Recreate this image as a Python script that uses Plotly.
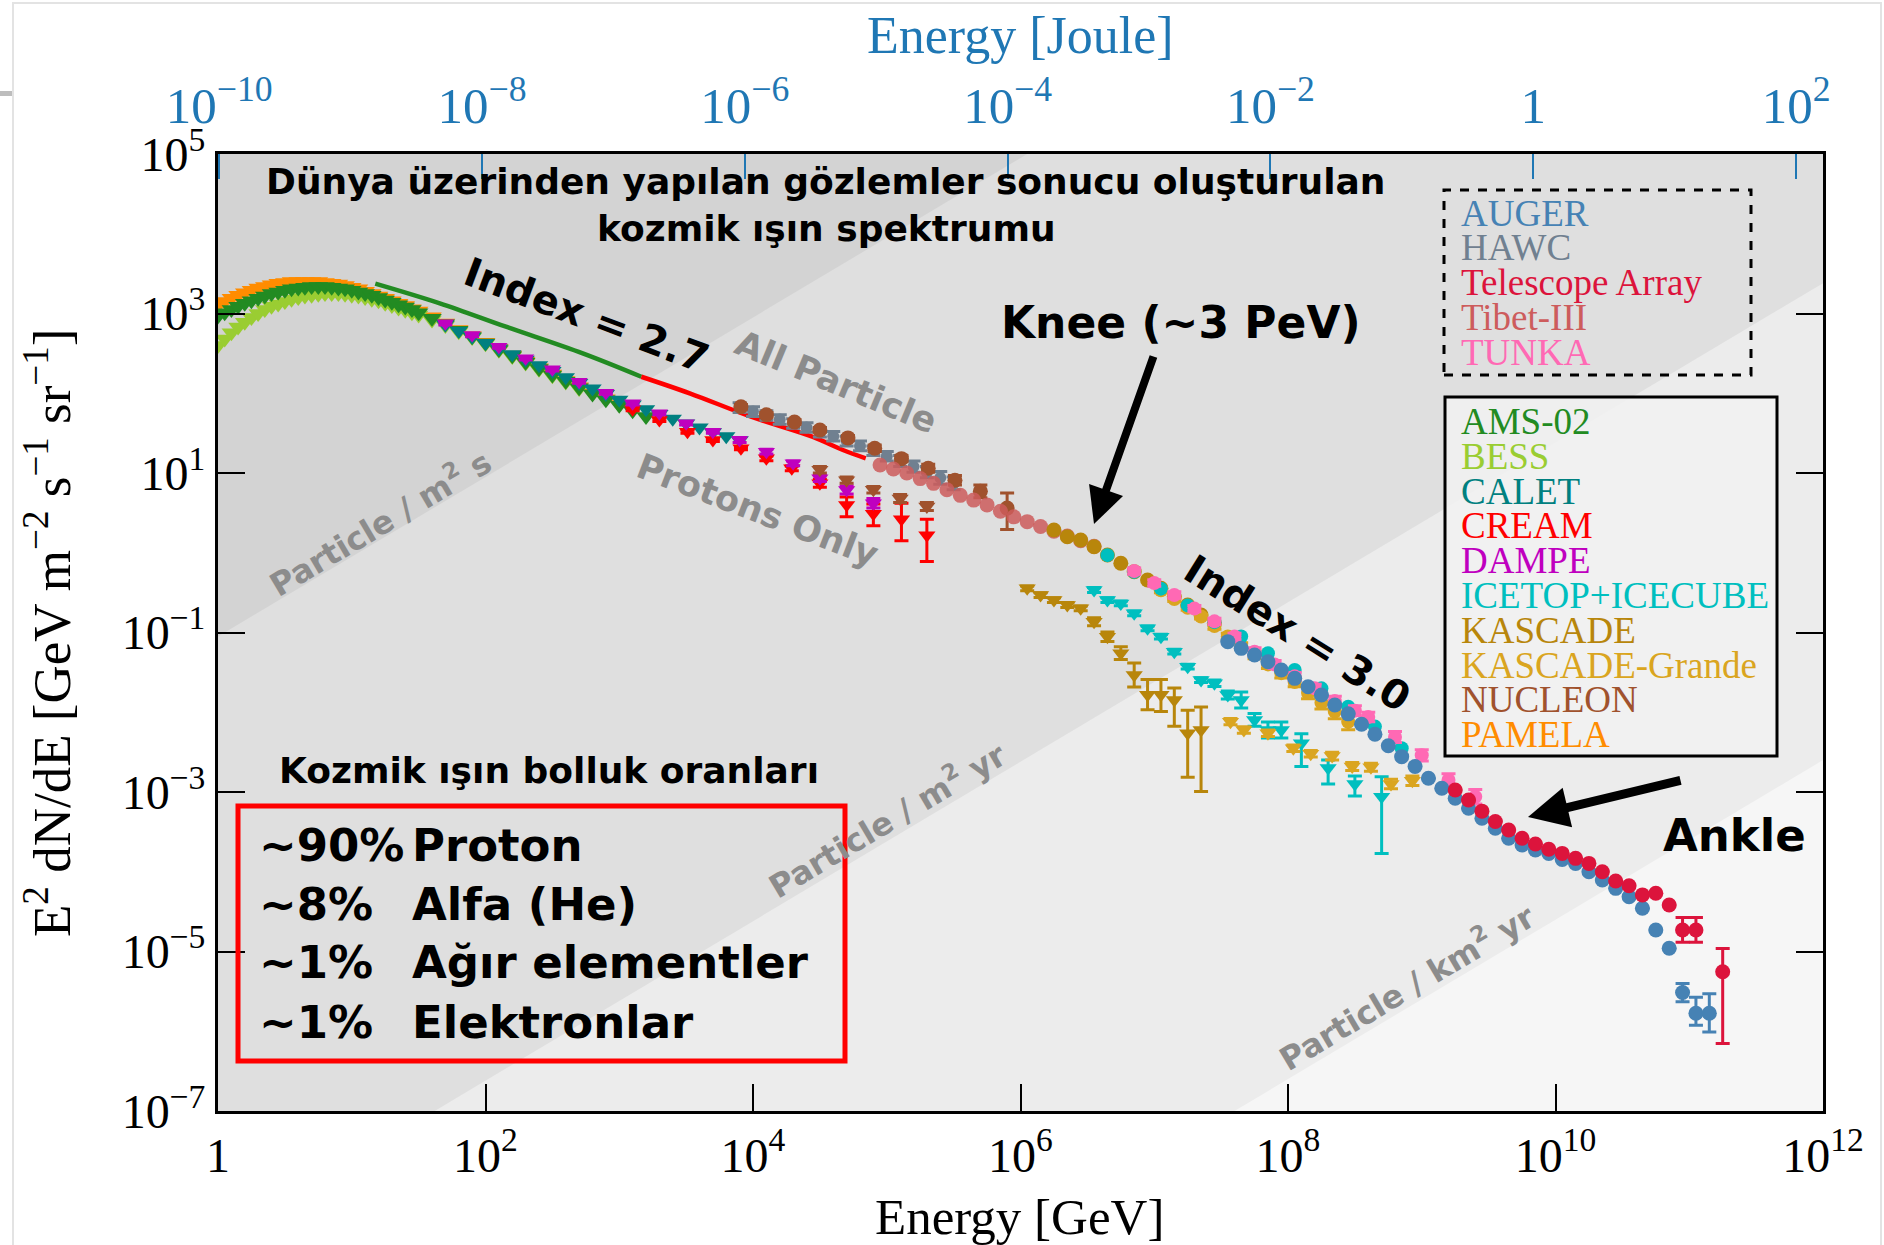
import numpy as np
import plotly.graph_objects as go

# ---------------- data (log10 E [GeV], log10 E^2 dN/dE) ----------------
pamela_lgE = [0.00,0.05,0.10,0.15,0.20,0.25,0.30,0.35,0.40,0.45,0.50,0.55,0.60,0.65,0.70,0.75,0.80,0.85,0.90,0.95,
              1.00,1.05,1.10,1.15,1.20,1.25,1.30,1.35,1.40,1.45,1.50,1.60,1.70,1.80,1.90,2.00,2.10,2.20,2.30,2.40,
              2.50,2.60,2.70,2.80,2.90,3.00]
pamela_lgF = [3.10,3.15,3.19,3.23,3.26,3.29,3.32,3.34,3.36,3.38,3.39,3.40,3.40,3.40,3.40,3.40,3.39,3.38,3.37,3.35,
              3.33,3.31,3.28,3.25,3.22,3.19,3.16,3.13,3.10,3.06,3.03,2.96,2.88,2.80,2.72,2.64,2.56,2.48,2.40,2.32,
              2.24,2.16,2.08,2.00,1.93,1.86]

bess_lgE = [0.00,0.05,0.10,0.15,0.20,0.25,0.30,0.35,0.40,0.45,0.50,0.55,0.60,0.65,0.70,0.75,0.80,0.85,0.90,0.95,
            1.00,1.05,1.10,1.15,1.20,1.25,1.30,1.35,1.40,1.45,1.50,1.60,1.70,1.80,1.90,2.00,2.10,2.20,2.30,2.40,
            2.50,2.60,2.70]
bess_lgF = [2.60,2.68,2.76,2.83,2.89,2.95,3.00,3.05,3.09,3.12,3.15,3.18,3.20,3.22,3.23,3.24,3.25,3.25,3.25,3.24,
            3.23,3.22,3.20,3.18,3.16,3.13,3.10,3.07,3.04,3.01,2.98,2.92,2.85,2.77,2.70,2.62,2.54,2.46,2.38,2.30,
            2.22,2.14,2.06]

ams_lgE = [0.00,0.05,0.10,0.15,0.20,0.25,0.30,0.35,0.40,0.45,0.50,0.55,0.60,0.65,0.70,0.75,0.80,0.85,0.90,0.95,
           1.00,1.05,1.10,1.15,1.20,1.25,1.30,1.35,1.40,1.45,1.50,1.60,1.70,1.80,1.90,2.00,2.10,2.20,2.30,2.40,
           2.50,2.60,2.70,2.80,2.90,3.00,3.10,3.20]
ams_lgF = [2.97,3.01,3.05,3.09,3.13,3.16,3.19,3.22,3.25,3.27,3.29,3.31,3.32,3.33,3.34,3.34,3.34,3.33,3.32,3.31,
           3.29,3.27,3.25,3.23,3.20,3.17,3.14,3.11,3.08,3.05,3.01,2.94,2.87,2.79,2.71,2.63,2.55,2.47,2.39,2.31,
           2.23,2.15,2.07,1.99,1.92,1.85,1.78,1.71]

ams_line_lgE = [1.176, 1.658, 2.153, 2.727, 3.165]
ams_line_lgF = [3.375, 3.128, 2.834, 2.500, 2.207]
cream_line_lgE = [3.165, 3.527, 3.985, 4.443, 4.672, 4.843]
cream_line_lgF = [2.207, 1.999, 1.706, 1.455, 1.288, 1.184]

calet_lgE = [1.7,1.8,1.9,2.0,2.1,2.2,2.3,2.4,2.5,2.6,2.7,2.8,2.9,3.0,3.1,3.2,3.3,3.4,3.5,3.6,3.7,3.8,3.9]
calet_lgF = [2.86,2.78,2.71,2.63,2.56,2.49,2.42,2.35,2.28,2.20,2.13,2.06,1.99,1.92,1.86,1.80,1.74,1.68,1.62,
             1.57,1.51,1.46,1.41]

dampe_lgE = [1.70,1.90,2.10,2.30,2.50,2.70,2.90,3.10,3.30,3.50,3.70,3.90,4.10,4.30,4.50,4.70,4.90]
dampe_lgF = [2.877,2.730,2.584,2.438,2.300,2.145,2.007,1.874,1.749,1.623,1.518,1.414,1.267,1.122,0.934,0.787,0.620]
dampe_err = [0.02,0.02,0.02,0.02,0.02,0.02,0.02,0.02,0.02,0.02,0.02,0.03,0.03,0.03,0.04,0.05,0.06]

cream_lgE = [3.10,3.30,3.51,3.70,3.91,4.10,4.29,4.50,4.70,4.90,5.11,5.30]
cream_lgF = [1.800,1.665,1.518,1.414,1.310,1.184,1.059,0.871,0.600,0.490,0.420,0.220]
cream_up = [0.02,0.02,0.02,0.02,0.02,0.03,0.03,0.05,0.10,0.12,0.20,0.20]
cream_dn = [0.02,0.02,0.02,0.02,0.02,0.03,0.03,0.05,0.15,0.15,0.27,0.33]

nucleon_p_lgE = [4.50,4.70,4.90,5.10,5.30]
nucleon_p_lgF = [1.04,0.91,0.79,0.68,0.58]
nucleon_p_err = [0.04,0.04,0.04,0.05,0.05]

hawc_lgE = [3.9,4.0,4.1,4.2,4.3,4.4,4.5,4.6,4.7,4.8,4.9,5.0,5.1,5.2,5.3,5.4,5.5]
hawc_lgF = [1.82,1.77,1.72,1.67,1.62,1.57,1.51,1.46,1.40,1.34,1.28,1.21,1.15,1.08,1.01,0.94,0.87]
hawc_err = [0.06,0.06,0.06,0.06,0.06,0.06,0.06,0.06,0.06,0.06,0.06,0.06,0.07,0.07,0.07,0.08,0.08]

nucleon_lgE = [3.91,4.10,4.31,4.50,4.71,4.91,5.11,5.31,5.51,5.70,5.90]
nucleon_lgF = [1.83,1.73,1.64,1.54,1.44,1.31,1.18,1.06,0.91,0.77,0.56]
nucleon_up = [0.03,0.03,0.03,0.03,0.03,0.04,0.04,0.05,0.06,0.08,0.19]
nucleon_dn = [0.03,0.03,0.03,0.03,0.03,0.04,0.04,0.05,0.06,0.08,0.27]

tibet_lgE = [4.95,5.05,5.15,5.25,5.35,5.45,5.55,5.65,5.75,5.85,5.95,6.05,6.15,6.25,6.35,6.45,6.55]
tibet_lgF = [1.10,1.05,1.00,0.93,0.87,0.79,0.72,0.66,0.60,0.52,0.45,0.39,0.33,0.27,0.21,0.15,0.08]

kascade_p_lgE = [6.05,6.15,6.25,6.35,6.45,6.55,6.65,6.75,6.85,6.95,7.05,7.15,7.25,7.35]
kascade_p_lgF = [-0.446,-0.530,-0.593,-0.655,-0.697,-0.864,-1.053,-1.260,-1.533,-1.780,-1.780,-1.846,-2.264,-2.223]
kascade_p_up = [0.03,0.03,0.03,0.03,0.03,0.05,0.06,0.08,0.15,0.19,0.19,0.15,0.29,0.29]
kascade_p_dn = [0.03,0.03,0.03,0.03,0.03,0.05,0.06,0.08,0.15,0.19,0.21,0.33,0.55,0.77]

icetop_p_lgE = [6.55,6.65,6.75,6.85,6.95,7.05,7.15,7.25,7.35,7.45,7.55,7.65,7.75,7.85,7.95,8.10,8.30,8.50,8.70]
icetop_p_lgF = [-0.467,-0.593,-0.635,-0.760,-0.948,-1.053,-1.240,-1.429,-1.596,-1.637,-1.784,-1.846,-2.097,
                -2.223,-2.223,-2.390,-2.700,-2.900,-3.060]
icetop_p_up = [0.03,0.03,0.03,0.03,0.03,0.03,0.03,0.03,0.03,0.04,0.05,0.10,0.08,0.10,0.10,0.12,0.10,0.10,0.25]
icetop_p_dn = [0.03,0.03,0.03,0.03,0.03,0.03,0.03,0.03,0.03,0.04,0.05,0.10,0.08,0.10,0.10,0.29,0.20,0.15,0.71]

kg_p_lgE = [7.57,7.67,7.85,8.04,8.17,8.33,8.48,8.62,8.77,8.93]
kg_p_lgF = [-2.118,-2.223,-2.264,-2.452,-2.520,-2.550,-2.680,-2.690,-2.900,-2.860]
kg_p_err = [0.04,0.04,0.04,0.04,0.04,0.05,0.05,0.05,0.06,0.06]

kascade_lgE = [6.25,6.35,6.45,6.55,6.65,6.75,6.85,6.95,7.05,7.15,7.25,7.35,7.45]
kascade_lgF = [0.285,0.200,0.160,0.076,-0.028,-0.132,-0.237,-0.342,-0.446,-0.551,-0.655,-0.780,-0.885]

kg_lgE = [7.05,7.15,7.25,7.35,7.45,7.55,7.65,7.75,7.85,7.95,8.05,8.15,8.25,8.35,8.45]
kg_lgF = [-0.47,-0.58,-0.69,-0.80,-0.92,-1.05,-1.17,-1.28,-1.40,-1.51,-1.62,-1.76,-1.88,-1.99,-2.12]
kg_err = [0.03,0.03,0.03,0.03,0.04,0.04,0.04,0.05,0.05,0.06,0.06,0.07,0.08,0.09,0.10]

icetop_lgE = [6.65,6.85,7.05,7.25,7.45,7.65,7.85,8.05,8.25,8.45,8.65,8.85]
icetop_lgF = [-0.03,-0.24,-0.45,-0.66,-0.87,-1.05,-1.26,-1.47,-1.70,-1.93,-2.18,-2.45]

tunka_lgE = [6.85,7.00,7.15,7.30,7.45,7.60,7.75,7.90,8.05,8.20,8.35,8.50,8.60,8.80,9.00,9.20,9.40]
tunka_lgF = [-0.23,-0.38,-0.53,-0.70,-0.86,-1.05,-1.24,-1.40,-1.55,-1.70,-1.86,-1.98,-2.06,-2.31,-2.54,-2.85,-3.06]
tunka_err = [0.04,0.04,0.04,0.04,0.04,0.04,0.05,0.05,0.05,0.05,0.06,0.06,0.06,0.07,0.07,0.08,0.09]

auger_lgE = [7.55,7.65,7.75,7.85,7.95,8.05,8.15,8.25,8.35,8.45,8.55,8.65,8.75,8.85,8.95,9.05,9.15,9.25,9.35,
             9.45,9.55,9.65,9.75,9.85,9.95,10.05,10.15,10.25,10.35,10.45,10.55,10.65,10.75,10.85,10.95,11.05,11.15]
auger_lgF = [-1.115,-1.199,-1.283,-1.366,-1.470,-1.575,-1.680,-1.784,-1.909,-2.020,-2.150,-2.275,-2.420,-2.557,
             -2.680,-2.828,-2.953,-3.079,-3.204,-3.330,-3.455,-3.580,-3.665,-3.727,-3.770,-3.845,-3.895,-4.000,
             -4.103,-4.208,-4.313,-4.458,-4.730,-4.960,-5.515,-5.775,-5.775]
auger_up = [0]*34 + [0.115, 0.20, 0.245]
auger_dn = [0]*34 + [0.115, 0.15, 0.235]

ta_lgE = [9.25,9.35,9.45,9.55,9.65,9.75,9.85,9.95,10.05,10.15,10.25,10.35,10.45,10.55,10.65,10.75,10.85,10.95,
          11.05,11.25]
ta_lgF = [-2.975,-3.100,-3.240,-3.370,-3.477,-3.580,-3.652,-3.718,-3.770,-3.832,-3.895,-4.000,-4.116,-4.175,
          -4.290,-4.270,-4.417,-4.730,-4.730,-5.253]
ta_up = [0]*17 + [0.155, 0.155, 0.29]
ta_dn = [0]*17 + [0.155, 0.155, 0.90]

x_tickvals = [1, 1e2, 1e4, 1e6, 1e8, 1e10, 1e12]
x_ticktext = ["1", "10<sup>2</sup>", "10<sup>4</sup>", "10<sup>6</sup>", "10<sup>8</sup>", "10<sup>10</sup>",
              "10<sup>12</sup>"]
y_tickvals = [1e-7, 1e-5, 1e-3, 1e-1, 1e1, 1e3, 1e5]
y_ticktext = ["10<sup>\u22127</sup>", "10<sup>\u22125</sup>", "10<sup>\u22123</sup>", "10<sup>\u22121</sup>",
              "10<sup>1</sup>", "10<sup>3</sup>", "10<sup>5</sup>"]
top_tickvals = [1e-10, 1e-8, 1e-6, 1e-4, 1e-2, 1, 1e2]
top_ticktext = ["10<sup>\u221210</sup>", "10<sup>\u22128</sup>", "10<sup>\u22126</sup>", "10<sup>\u22124</sup>",
                "10<sup>\u22122</sup>", "1", "10<sup>2</sup>"]

legend_dashed = [("AUGER", "#4682B4"), ("HAWC", "#708090"), ("Telescope Array", "#DC143C"),
                 ("Tibet-III", "#CD5C5C"), ("TUNKA", "#FF69B4")]
legend_solid = [("AMS-02", "#228B22"), ("BESS", "#9ACD32"), ("CALET", "#008080"), ("CREAM", "#FF0000"),
                ("DAMPE", "#BF00BF"), ("ICETOP+ICECUBE", "#00BFBF"), ("KASCADE", "#B8860B"),
                ("KASCADE-Grande", "#DAA520"), ("NUCLEON", "#A0522D"), ("PAMELA", "#FF8C00")]
abundance = [("~90%", "Proton"), ("~8%", "Alfa (He)"), ("~1%", "A\u011f\u0131r elementler"),
             ("~1%", "Elektronlar")]

# band boundaries: log F = log E + offset (constant integrated flux), and their colours
band_offsets = [-1.05, -8.62, -14.6]
band_colors = ["#dfdfdf", "#ececec", "#f6f6f6"]

# ---------------- geometry ----------------
W, H = 1884, 1245
L, R, T, B = 218, 1823, 154, 1111
TRI, CIR = 16, 15


def P(x, y):
    return (x - L) / (R - L), (B - y) / (B - T)


def series(lgE, lgF, color, symbol, size=13, up=None, dn=None, opacity=1.0, xaxis="x"):
    lgE = np.array(lgE, float)
    lgF = np.array(lgF, float)
    x = 10 ** lgE
    y = 10 ** lgF
    kw = {}
    if up is not None:
        up = np.array(up, float)
        dn = np.array(dn if dn is not None else up, float)
        kw["error_y"] = dict(type="data", symmetric=False, array=10 ** (lgF + up) - y,
                             arrayminus=y - 10 ** (lgF - dn), color=color, thickness=3, width=7)
    return go.Scatter(x=x, y=y, mode="markers", xaxis=xaxis,
                      marker=dict(symbol=symbol, size=size, color=color, opacity=opacity, line=dict(width=0)),
                      showlegend=False, hoverinfo="skip", **kw)


def line(lgE, lgF, color):
    return go.Scatter(x=10 ** np.array(lgE), y=10 ** np.array(lgF), mode="lines",
                      line=dict(color=color, width=4.5, shape="spline"), showlegend=False, hoverinfo="skip")


fig = go.Figure()
fig.add_trace(series(pamela_lgE, pamela_lgF, "#FF8C00", "triangle-down", TRI + 1))
fig.add_trace(series(bess_lgE, bess_lgF, "#9ACD32", "triangle-down", TRI + 1))
fig.add_trace(series(ams_lgE, ams_lgF, "#228B22", "triangle-down", TRI + 1))
fig.add_trace(line(ams_line_lgE, ams_line_lgF, "#228B22"))
fig.add_trace(line(cream_line_lgE, cream_line_lgF, "#FF0000"))
fig.add_trace(series(calet_lgE, calet_lgF, "#008080", "triangle-down", TRI))
fig.add_trace(series(cream_lgE, cream_lgF, "#FF0000", "triangle-down", TRI - 1, cream_up, cream_dn))
fig.add_trace(series(dampe_lgE, dampe_lgF, "#BF00BF", "triangle-down", TRI - 1, dampe_err))
fig.add_trace(series(nucleon_p_lgE, nucleon_p_lgF, "#A0522D", "triangle-down", TRI - 1, nucleon_p_err))
fig.add_trace(series(hawc_lgE, hawc_lgF, "#708090", "circle", CIR - 3, hawc_err))
fig.add_trace(series(nucleon_lgE, nucleon_lgF, "#A0522D", "circle", CIR, nucleon_up, nucleon_dn))
fig.add_trace(series(tibet_lgE, tibet_lgF, "#CD5C5C", "circle", CIR, opacity=0.85))
fig.add_trace(series(kascade_p_lgE, kascade_p_lgF, "#B8860B", "triangle-down", TRI - 1, kascade_p_up, kascade_p_dn))
fig.add_trace(series(icetop_p_lgE, icetop_p_lgF, "#00BFBF", "triangle-down", TRI - 1, icetop_p_up, icetop_p_dn))
fig.add_trace(series(kg_p_lgE, kg_p_lgF, "#DAA520", "triangle-down", TRI - 1, kg_p_err))
fig.add_trace(series(kascade_lgE, kascade_lgF, "#B8860B", "circle", CIR))
fig.add_trace(series(kg_lgE, kg_lgF, "#DAA520", "circle", CIR - 1, kg_err))
fig.add_trace(series(icetop_lgE, icetop_lgF, "#00BFBF", "circle", CIR - 1))
fig.add_trace(series(tunka_lgE, tunka_lgF, "#FF69B4", "circle", CIR - 1, tunka_err))
fig.add_trace(series(auger_lgE, auger_lgF, "#4682B4", "circle", CIR, auger_up, auger_dn))
fig.add_trace(series(ta_lgE, ta_lgF, "#DC143C", "circle", CIR, ta_up, ta_dn))
# invisible anchor so the top (Joule) axis is drawn
fig.add_trace(go.Scatter(x=[1e-5], y=[1.0], xaxis="x2", mode="markers", marker=dict(opacity=0),
                         showlegend=False, hoverinfo="skip"))

shapes = []


def clip_below(c):
    box = [(0, -7), (12, -7), (12, 5), (0, 5)]
    out = []
    f = lambda p: p[1] - p[0] - c
    for i in range(len(box)):
        p, q = box[i], box[(i + 1) % len(box)]
        fp, fq = f(p), f(q)
        if fp <= 0:
            out.append(p)
        if fp * fq < 0:
            t = fp / (fp - fq)
            out.append((p[0] + t * (q[0] - p[0]), p[1] + t * (q[1] - p[1])))
    return out


for off, col in zip(band_offsets, band_colors):
    pts = clip_below(off)
    path = "M " + " L ".join(f"{e / 12:.5f},{(f + 7) / 12:.5f}" for e, f in pts) + " Z"
    shapes.append(dict(type="path", path=path, xref="paper", yref="paper", fillcolor=col,
                       line=dict(width=0), layer="below"))


def rect(x0, y0, x1, y1, **kw):
    a = P(x0, y0)
    b = P(x1, y1)
    d = dict(type="rect", xref="paper", yref="paper", x0=a[0], y0=b[1], x1=b[0], y1=a[1])
    d.update(kw)
    return d


# outer screenshot frame
shapes.append(rect(13, 3, 1881, 1250, line=dict(color="#e3e3e3", width=2), layer="below"))
shapes.append(rect(0, 91, 12, 96, line=dict(width=0), fillcolor="#bdbdbd", layer="below"))
# legend boxes
shapes.append(rect(1444, 190, 1751, 375, line=dict(color="black", width=3, dash="dash"), layer="above"))
shapes.append(rect(1445, 397, 1777, 756, line=dict(color="black", width=3),
                   fillcolor="rgba(242,242,242,0.85)", layer="above"))
# abundance box
shapes.append(rect(238, 806, 845, 1061, line=dict(color="#FF0000", width=5), layer="above"))

ann = []


def text(x, y, s, size, color="black", family="DejaVu Sans", weight="bold", angle=0, xanchor="center"):
    px, py = P(x, y)
    ann.append(dict(x=px, y=py, xref="paper", yref="paper", text=s, showarrow=False, textangle=angle,
                    xanchor=xanchor, yanchor="middle",
                    font=dict(family=family, size=size, color=color, weight=weight)))


text(825, 181, "Dünya üzerinden yapılan gözlemler sonucu oluşturulan", 36)
text(826, 228, "kozmik ışın spektrumu", 36)
text(586, 315, "Index = 2.7", 40, angle=20.6)
text(1297, 633, "Index = 3.0", 40, angle=32)
text(1181, 322, "Knee (~3 PeV)", 44)
text(1734, 835, "Ankle", 45)
text(549, 770, "Kozmik ışın bolluk oranları", 36)
for i, (p, name) in enumerate(abundance):
    yy = [845, 904, 962, 1022][i]
    text(257, yy, p, 45, xanchor="left")
    text(410, yy, name, 45, xanchor="left")

gray = "#8c8c8c"
text(379, 522, "Particle / m<sup>2</sup> s", 32, color=gray, angle=-30.8)
text(886, 819, "Particle / m<sup>2</sup> yr", 32, color=gray, angle=-30.8)
text(1406, 986, "Particle / km<sup>2</sup> yr", 32, color=gray, angle=-30.8)
text(836, 382, "All Particle", 35, color=gray, angle=22.5)
text(757, 510, "Protons Only", 35, color=gray, angle=21)

for i, (s, c) in enumerate(legend_dashed):
    text(1459, 213 + 34.8 * i, s, 37, color=c, family="Liberation Serif", weight="normal", xanchor="left")
for i, (s, c) in enumerate(legend_solid):
    text(1459, 421.5 + 34.8 * i, s, 37, color=c, family="Liberation Serif", weight="normal", xanchor="left")

# axis titles
text(1019, 1217, "Energy [GeV]", 51, family="Liberation Serif", weight="normal")
text(1020, 36, "Energy [Joule]", 52, color="#1f77b4", family="Liberation Serif", weight="normal")
text(48, 633, "E<sup>2</sup> dN/dE [GeV m<sup>\u22122</sup> s<sup>\u22121</sup> sr<sup>\u22121</sup>]", 53,
     family="Liberation Serif", weight="normal", angle=-90)

# arrows
for (hx, hy, tx, ty, w) in [(1094, 524, 1154, 355, 8), (1528, 817, 1682, 780, 9)]:
    px, py = P(hx, hy)
    ann.append(dict(x=px, y=py, xref="paper", yref="paper", text="", showarrow=True, arrowhead=2,
                    arrowsize=0.9, arrowwidth=w, arrowcolor="black", ax=tx - hx, ay=ty - hy, standoff=0))

tickfont = dict(family="Liberation Serif", size=48, color="black")
fig.update_layout(
    width=W, height=H, margin=dict(l=L, r=W - R, t=T, b=H - B, pad=0),
    paper_bgcolor="white", plot_bgcolor="#d3d3d3", showlegend=False,
    shapes=shapes, annotations=ann,
    xaxis=dict(type="log", range=[0, 12], tickvals=x_tickvals, ticktext=x_ticktext, ticks="inside",
               ticklen=27, tickwidth=2, tickcolor="black", showline=True, linewidth=3, linecolor="black",
               mirror=True, showgrid=False, zeroline=False, tickfont=tickfont),
    yaxis=dict(type="log", range=[-7, 5], tickvals=y_tickvals, ticktext=y_ticktext, ticks="inside",
               ticklen=27, tickwidth=2, tickcolor="black", showline=True, linewidth=3, linecolor="black",
               mirror="ticks", showgrid=False, zeroline=False, tickfont=tickfont),
    xaxis2=dict(type="log", range=[-10.009, 2.205], overlaying="x", side="top", anchor="y",
                tickvals=top_tickvals, ticktext=top_ticktext, ticks="inside", ticklen=25, tickwidth=2,
                tickcolor="#1f77b4", showline=False, showgrid=False, zeroline=False, ticklabelstandoff=20,
                tickfont=dict(family="Liberation Serif", size=51, color="#1f77b4")),
)

fig.write_html("out.html", config={"displayModeBar": False},
               post_script="document.body.style.margin='0px';document.body.style.overflow='hidden';")
